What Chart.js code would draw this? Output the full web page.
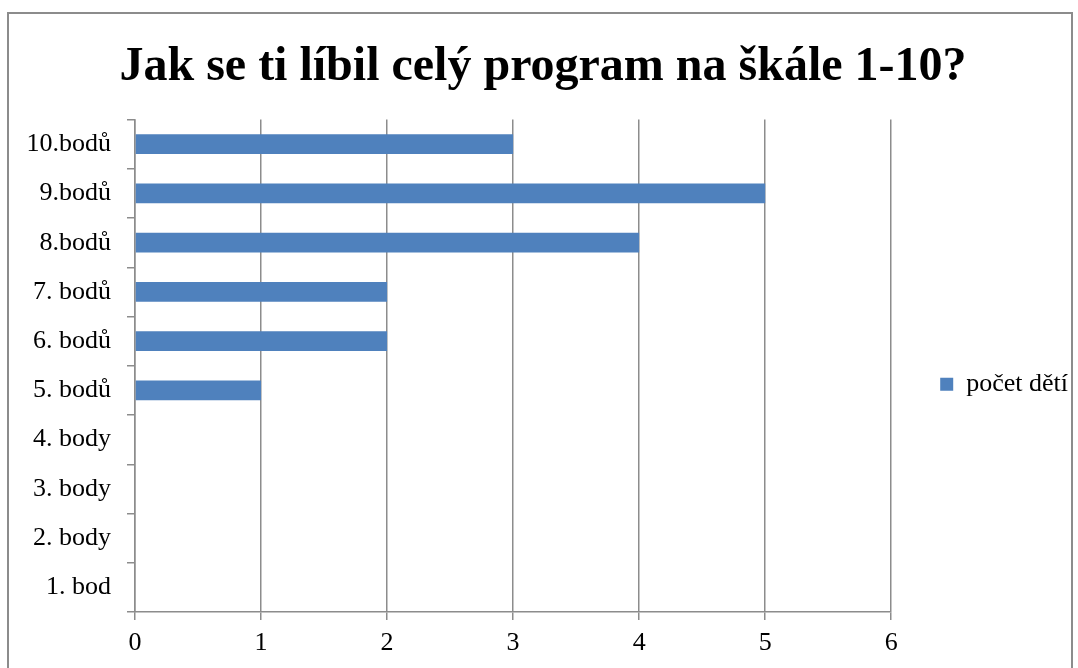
<!DOCTYPE html>
<html>
<head>
<meta charset="utf-8">
<script src="https://cdn.jsdelivr.net/npm/chart.js@4.4.0/dist/chart.umd.min.js"></script>
<style>
    body { margin: 0; background: #fff; }
    #wrap { position: relative; width: 1078px; height: 668px; overflow: hidden; }
    #frame { position: absolute; left: 7px; top: 12px; width: 1066px; height: 700px; border: 2px solid #8c8c8c; box-sizing: border-box; }
    #ratingChart { position: absolute; left: 0; top: 0; }
</style>
</head>
<body>
<div id="wrap">
    <div id="frame"></div>
    <canvas id="ratingChart" width="1078" height="668"></canvas>
</div>
<script>
const labels = [
    '10.bodů',
    '9.bodů',
    '8.bodů',
    '7. bodů',
    '6. bodů',
    '5. bodů',
    '4. body',
    '3. body',
    '2. body',
    '1. bod',
];

const counts = [3, 5, 4, 2, 2, 1, 0, 0, 0, 0];

const gridGray = '#8c8c8c';

const data = {
    labels: labels,
    datasets: [{
        label: 'počet dětí',
        backgroundColor: '#4f81bd',
        borderWidth: 0,
        data: counts,
        barPercentage: 0.4,
        categoryPercentage: 1,
    }]
};

const config = {
    type: 'bar',
    data: data,
    options: {
        indexAxis: 'y',
        responsive: false,
        animation: false,
        layout: {
            padding: { top: 8, left: 8, right: 0, bottom: 0 },
        },
        plugins: {
            legend: {
                position: 'right',
                // empty legend title just pushes the entry down to where the original has it
                title: {
                    display: true,
                    text: ' ',
                    padding: { top: 0, bottom: 78 },
                    font: { size: 12, lineHeight: 1.2 },
                },
                labels: {
                    boxWidth: 13,
                    boxHeight: 13,
                    padding: 49,
                    color: '#000',
                    font: { family: 'Liberation Serif', size: 26 },
                },
            },
            title: {
                display: true,
                text: 'Jak se ti líbil celý program na škále 1-10?',
                color: '#000',
                padding: { top: 31, bottom: 23 },
                font: { family: 'Liberation Serif', weight: 'bold', size: 48, lineHeight: 1.2 },
            },
            tooltip: { enabled: false },
        },
        scales: {
            x: {
                min: 0,
                max: 6,
                ticks: {
                    stepSize: 1,
                    padding: 8,
                    color: '#000',
                    font: { family: 'Liberation Serif', size: 26 },
                },
                grid: {
                    color: gridGray,
                    lineWidth: 1.5,
                    tickLength: 8,
                },
                border: { color: gridGray, width: 1.5 },
                afterFit: (scale) => { scale.height = 56; },
            },
            y: {
                offset: true,
                ticks: {
                    padding: 16,
                    color: '#000',
                    font: { family: 'Liberation Serif', size: 26 },
                },
                grid: {
                    offset: true,
                    drawOnChartArea: false,
                    color: gridGray,
                    lineWidth: 1.5,
                    tickLength: 8,
                },
                border: { color: gridGray, width: 1.5 },
                afterFit: (scale) => { scale.width = 127; },
            },
        },
    }
};

const ratingChart = new Chart(
    document.getElementById('ratingChart'),
    config
);
</script>
</body>
</html>
